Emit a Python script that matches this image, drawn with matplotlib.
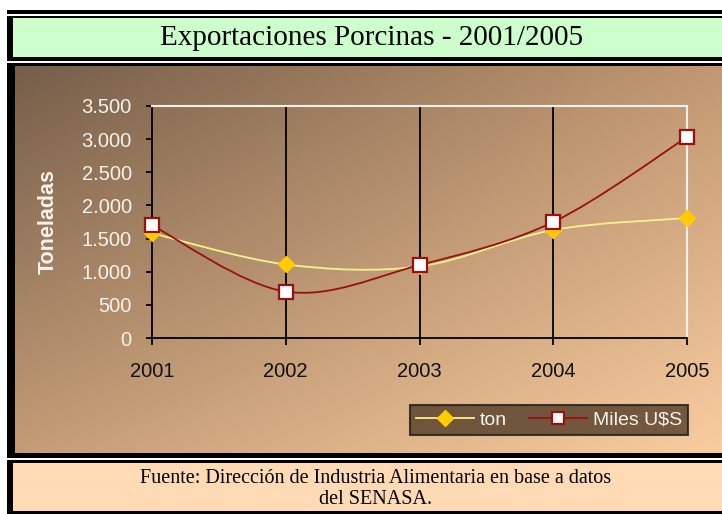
import numpy as np
import matplotlib
matplotlib.use("Agg")
import matplotlib.pyplot as plt
from matplotlib.patches import Rectangle, PathPatch
from matplotlib.path import Path
from matplotlib.lines import Line2D
from matplotlib.ticker import FuncFormatter

# ---- data ----
years = [2001, 2002, 2003, 2004, 2005]
ton = [1580, 1110, 1080, 1630, 1810]
miles_usd = [1700, 700, 1100, 1750, 3030]
series_names = ["ton", "Miles U$S"]
y_ticks = [0, 500, 1000, 1500, 2000, 2500, 3000, 3500]
title = "Exportaciones Porcinas - 2001/2005"
ylabel = "Toneladas"
source = "Fuente: Dirección de Industria Alimentaria en base a datos\ndel SENASA."

W, H = 722, 514
fig = plt.figure(figsize=(W / 100, H / 100), dpi=100)
fig.patch.set_facecolor("white")

# background axes in pixel coordinates
bg = fig.add_axes([0, 0, 1, 1], zorder=0)
bg.set_xlim(0, W)
bg.set_ylim(H, 0)
bg.axis("off")

# outer black frame
bg.add_patch(Rectangle((7, 10), W - 7, H - 10, facecolor="black", edgecolor="none"))
# white separator lines
bg.add_patch(Rectangle((7, 14), W - 7, 2, facecolor="white", edgecolor="none"))
bg.add_patch(Rectangle((7, 61), W - 7, 2, facecolor="white", edgecolor="none"))
bg.add_patch(Rectangle((7, 458), W - 7, 2, facecolor="white", edgecolor="none"))
# green title band
bg.add_patch(Rectangle((13, 18), W - 13, 39, facecolor="#ccffcc", edgecolor="none"))
# peach footnote band
bg.add_patch(Rectangle((13, 463), W - 13, 48, facecolor="#ffdab4", edgecolor="none"))

# gradient chart background
x0, x1, y0, y1 = 15, W, 66, 453
nx, ny = 200, 120
tl = np.array([118, 94, 74]) / 255
tr = np.array([194, 152, 114]) / 255
bl = np.array([196, 156, 118]) / 255
br = np.array([250, 205, 160]) / 255
u = np.linspace(0, 1, nx)[None, :, None]
v = np.linspace(0, 1, ny)[:, None, None]
img = (1 - u) * (1 - v) * tl + u * (1 - v) * tr + (1 - u) * v * bl + u * v * br
bg.imshow(img, extent=[x0, x1, y1, y0], aspect="auto", interpolation="bilinear", zorder=1)
bg.set_xlim(0, W)
bg.set_ylim(H, 0)

# title and footnote
bg.text(372, 38, title, ha="center", va="center", fontsize=21,
        family="Liberation Serif", color="black", zorder=3)
bg.text(376, 489, source, ha="center", va="center", fontsize=14.5,
        family="Liberation Serif", color="black", linespacing=1.2, zorder=3)

# ---- chart axes ----
px_l, px_r, px_t, px_b = 152, 687, 106, 338
ax = fig.add_axes([px_l / W, 1 - px_b / H, (px_r - px_l) / W, (px_b - px_t) / H], zorder=2)
ax.patch.set_alpha(0)
ax.set_xlim(years[0], years[-1])
ax.set_ylim(y_ticks[0], y_ticks[-1])

ax.spines["left"].set_color("black")
ax.spines["bottom"].set_color("black")
ax.spines["left"].set_linewidth(1.3)
ax.spines["bottom"].set_linewidth(1.3)
ax.spines["top"].set_color("#f4f1ec")
ax.spines["right"].set_color("#f4f1ec")
ax.spines["top"].set_linewidth(1.5)
ax.spines["right"].set_linewidth(1.5)

ax.set_xticks(years)
ax.set_xticklabels([str(y) for y in years])
ax.set_yticks(y_ticks)
ax.yaxis.set_major_formatter(FuncFormatter(lambda v, p: f"{int(v):,}".replace(",", ".")))
ax.tick_params(axis="y", direction="out", length=4.5, width=1.3, color="black",
               labelcolor="#f6f3ec", labelsize=14.5, pad=10)
ax.tick_params(axis="x", direction="out", length=5, width=1.3, color="black",
               labelcolor="#111111", labelsize=14.5, pad=12)
for lab in ax.get_xticklabels() + ax.get_yticklabels():
    lab.set_family("Liberation Sans")

# vertical gridlines at inner categories
for yr in years[1:-1]:
    ax.axvline(yr, color="black", lw=1.3, zorder=1)

ax.set_ylabel(ylabel, fontsize=15.5, fontweight="bold", color="#f6f3ec",
              family="Liberation Sans")
ax.yaxis.set_label_coords(-0.175, 0.5)


def smooth_path(xs, ys):
    pts = np.column_stack([xs, ys]).astype(float)
    n = len(pts)
    verts = [pts[0]]
    codes = [Path.MOVETO]
    for i in range(n - 1):
        p0 = pts[i - 1] if i > 0 else pts[i]
        p1 = pts[i]
        p2 = pts[i + 1]
        p3 = pts[i + 2] if i + 2 < n else pts[i + 1]
        c1 = p1 + (p2 - p0) / 6.0
        c2 = p2 - (p3 - p1) / 6.0
        verts += [c1, c2, p2]
        codes += [Path.CURVE4] * 3
    return Path(verts, codes)


ton_color = "#f7f38a"
ton_marker = "#ffcc00"
mil_color = "#9a0f0f"
lw = 1.3

ax.add_patch(PathPatch(smooth_path(years, ton), fill=False, edgecolor=ton_color,
                       lw=lw, zorder=3, clip_on=False))
ax.plot(years, ton, linestyle="none", marker="D", ms=8, mfc=ton_marker,
        mec=ton_marker, zorder=4, clip_on=False)
ax.add_patch(PathPatch(smooth_path(years, miles_usd), fill=False, edgecolor=mil_color,
                       lw=lw, zorder=5, clip_on=False))
ax.plot(years, miles_usd, linestyle="none", marker="s", ms=9.5, mfc="white",
        mec=mil_color, mew=1.6, zorder=6, clip_on=False)

# legend
handles = [
    Line2D([], [], color=ton_color, lw=lw, marker="D", ms=8, mfc=ton_marker, mec=ton_marker),
    Line2D([], [], color=mil_color, lw=lw, marker="s", ms=9, mfc="white", mec=mil_color, mew=1.6),
]
leg = fig.legend(handles, series_names, loc="center",
                 bbox_to_anchor=(549 / W, 1 - 420 / H), ncol=2,
                 frameon=True, fancybox=False, handlelength=3.0, handletextpad=0.3,
                 columnspacing=1.1, borderpad=0.3,
                 prop={"family": "Liberation Sans", "size": 14})
frame = leg.get_frame()
frame.set_facecolor((0.33, 0.24, 0.16, 0.55))
frame.set_edgecolor("#1a1a1a")
frame.set_linewidth(1.5)
for t in leg.get_texts():
    t.set_color("#f6f3ec")

fig.savefig("out.png", dpi=100)
